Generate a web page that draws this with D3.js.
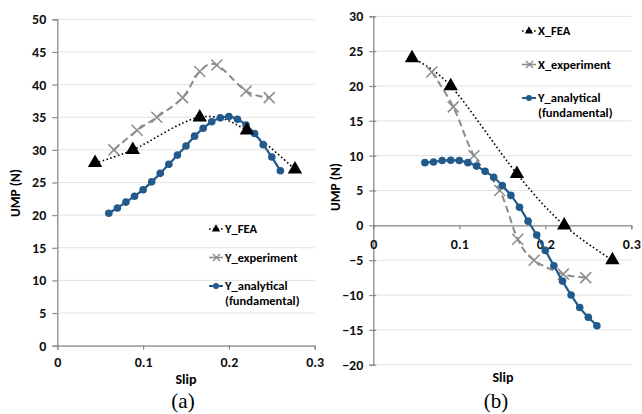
<!DOCTYPE html>
<html>
<head>
<meta charset="utf-8">
<script src="https://cdn.jsdelivr.net/npm/d3@7"></script>
<style>
  html, body { margin: 0; padding: 0; background: #fff; }
  svg { display: block; }
  text { font-family: Calibri, Carlito, Lato, "Open Sans", sans-serif; }
</style>
</head>
<body>
<svg id="chart" width="642" height="414"></svg>
<script>
// ---- Data: panel (a), Y component ----
const aFeaSlip = [0.044, 0.088, 0.166, 0.221, 0.277];
const aFeaUmp  = [28, 30, 35, 33, 27];
const aExpSlip = [0.066, 0.093, 0.116, 0.146, 0.166, 0.186, 0.220, 0.247];
const aExpUmp  = [30, 33, 35, 38, 42, 43, 39, 38];
const anaSlip  = [0.06, 0.07, 0.08, 0.09, 0.10, 0.11, 0.12, 0.13, 0.14, 0.15, 0.16,
                  0.17, 0.18, 0.19, 0.20, 0.21, 0.22, 0.23, 0.24, 0.25, 0.26];
const aAnaUmp  = [20.3, 21.1, 22.0, 22.9, 23.9, 25.1, 26.4, 27.8, 29.2, 30.6, 32.1,
                  33.3, 34.3, 34.9, 35.1, 34.7, 33.8, 32.5, 30.8, 28.9, 26.8];

// ---- Data: panel (b), X component ----
const bFeaSlip = [0.045, 0.090, 0.167, 0.222, 0.278];
const bFeaUmp  = [24, 20, 7.4, 0, -5];
const bExpSlip = [0.068, 0.093, 0.117, 0.147, 0.168, 0.187, 0.221, 0.247];
const bExpUmp  = [22, 17, 10, 5, -2, -5, -7, -7.5];
const bAnaUmp  = [9.0, 9.1, 9.3, 9.35, 9.3, 9.0, 8.5, 7.75, 6.9, 5.7, 4.3,
                  2.6, 0.6, -1.4, -3.6, -5.8, -8.0, -10.0, -11.8, -13.2, -14.4];

// ---- Axis ticks and labels ----
const slipTicks = [0, 0.1, 0.2, 0.3];
const aUmpTicks = [0, 5, 10, 15, 20, 25, 30, 35, 40, 45, 50];
const bUmpTicks = [-20, -15, -10, -5, 0, 5, 10, 15, 20, 25, 30];
const aLegend = ["Y_FEA", "Y_experiment", "Y_analytical", "(fundamental)"];
const bLegend = ["X_FEA", "X_experiment", "Y_analytical", "(fundamental)"];

const BLUE = "#235a8c", GRAY = "#8c8c8c", GRID = "#e3e3e3", AXIS = "#8a8a8a";
const svg = d3.select("#chart");
const zip = (xs, ys) => xs.map((x, i) => [x, ys[i]]);

function panel(opt) {
  const g = svg.append("g");
  const x = d3.scaleLinear().domain([0, 0.3]).range(opt.xr);
  const y = d3.scaleLinear().domain(opt.yd).range(opt.yr);

  // horizontal gridlines
  g.append("g").selectAll("line").data(opt.yTicks).join("line")
    .attr("x1", x(0)).attr("x2", x(0.3))
    .attr("y1", d => y(d)).attr("y2", d => y(d))
    .attr("stroke", GRID).attr("stroke-width", 1);

  // y axis
  const yAxis = g.append("g").attr("transform", `translate(${x(0)},0)`)
    .call(d3.axisLeft(y).tickValues(opt.yTicks).tickSize(opt.yTickSize).tickPadding(6).tickFormat(d3.format("d")));
  yAxis.select(".domain").attr("stroke", AXIS).attr("stroke-width", 1.3);
  yAxis.selectAll(".tick line").attr("stroke", AXIS).attr("stroke-width", 1.2)
    .attr("x1", opt.yTickCross ? 3 : 0);
  yAxis.selectAll(".tick text").attr("font-size", 14).attr("font-weight", "bold").attr("fill", "#111");

  // x axis (crossing at y = 0)
  const xAxis = g.append("g").attr("transform", `translate(0,${y(0)})`)
    .call(d3.axisBottom(x).tickValues(slipTicks).tickSize(4).tickPadding(opt.xPad)
      .tickFormat(d => d === 0 ? "0" : d3.format(".1f")(d)));
  xAxis.select(".domain").attr("stroke", AXIS).attr("stroke-width", 1.3);
  xAxis.selectAll(".tick line").attr("stroke", AXIS).attr("stroke-width", 1.2);
  xAxis.selectAll(".tick text").attr("font-size", 14).attr("font-weight", "bold").attr("fill", "#111");

  // axis titles
  g.append("text").attr("x", opt.slipPos[0]).attr("y", opt.slipPos[1])
    .attr("text-anchor", "middle").attr("font-size", 14).attr("font-weight", "bold").text("Slip");
  g.append("text").attr("transform", `translate(${opt.umpPos[0]},${opt.umpPos[1]}) rotate(-90)`)
    .attr("text-anchor", "middle").attr("font-size", 13.5).attr("font-weight", "bold").text("UMP (N)");

  const smooth = d3.line().x(d => x(d[0])).y(d => y(d[1])).curve(d3.curveCatmullRom.alpha(0));

  // FEA: dotted smooth line with triangles
  const fea = zip(opt.feaX, opt.feaY);
  g.append("path").attr("d", smooth(fea)).attr("fill", "none")
    .attr("stroke", "#000").attr("stroke-width", 1.6).attr("stroke-dasharray", "1.6,2.4");
  // experiment: dashed smooth line with crosses
  const exp = zip(opt.expX, opt.expY);
  g.append("path").attr("d", smooth(exp)).attr("fill", "none")
    .attr("stroke", GRAY).attr("stroke-width", 2).attr("stroke-dasharray", "7,4");
  g.append("g").selectAll("path").data(exp).join("path")
    .attr("d", d => { const cx = x(d[0]), cy = y(d[1]), r = 5.5;
      return `M${cx - r},${cy - r}L${cx + r},${cy + r}M${cx - r},${cy + r}L${cx + r},${cy - r}`; })
    .attr("stroke", GRAY).attr("stroke-width", 1.5).attr("fill", "none");
  // analytical: solid line with circles
  const ana = zip(anaSlip, opt.anaY);
  g.append("path").attr("d", smooth(ana)).attr("fill", "none")
    .attr("stroke", BLUE).attr("stroke-width", 2.2);
  g.append("g").selectAll("circle").data(ana).join("circle")
    .attr("cx", d => x(d[0])).attr("cy", d => y(d[1])).attr("r", 3.8).attr("fill", BLUE);
  // triangles on top
  const tri = d3.symbol().type(d3.symbolTriangle).size(90);
  g.append("g").selectAll("path").data(fea).join("path")
    .attr("transform", d => `translate(${x(d[0])},${y(d[1])})`).attr("d", tri).attr("fill", "#000");

  // legend
  const L = opt.legend, lx = opt.legPos[0], ly = opt.legPos[1], gap = opt.legGap;
  const lg = g.append("g").attr("font-size", 12.5).attr("font-weight", "bold");
  // FEA entry
  lg.append("line").attr("x1", lx).attr("x2", lx + 14).attr("y1", ly).attr("y2", ly)
    .attr("stroke", "#000").attr("stroke-width", 1.6).attr("stroke-dasharray", "1.6,2.4");
  lg.append("path").attr("transform", `translate(${lx + 7},${ly})`)
    .attr("d", d3.symbol().type(d3.symbolTriangle).size(30)).attr("fill", "#000");
  lg.append("text").attr("x", lx + 16).attr("y", ly).attr("dy", "0.35em").text(L[0]);
  // experiment entry
  const ey = ly + gap;
  lg.append("line").attr("x1", lx).attr("x2", lx + 14).attr("y1", ey).attr("y2", ey)
    .attr("stroke", GRAY).attr("stroke-width", 1.6);
  lg.append("path").attr("d", `M${lx + 4},${ey - 3.5}L${lx + 11},${ey + 3.5}M${lx + 4},${ey + 3.5}L${lx + 11},${ey - 3.5}`)
    .attr("stroke", GRAY).attr("stroke-width", 1.4);
  lg.append("text").attr("x", lx + 16).attr("y", ey).attr("dy", "0.35em").text(L[1]);
  // analytical entry
  const ay = ly + 2 * gap;
  lg.append("line").attr("x1", lx).attr("x2", lx + 14).attr("y1", ay).attr("y2", ay)
    .attr("stroke", BLUE).attr("stroke-width", 2);
  lg.append("circle").attr("cx", lx + 7).attr("cy", ay).attr("r", 3).attr("fill", BLUE);
  lg.append("text").attr("x", lx + 16).attr("y", ay).attr("dy", "0.35em").text(L[2]);
  lg.append("text").attr("x", lx + 16).attr("y", ay + 15).attr("dy", "0.35em").text(L[3]);

  // caption
  svg.append("text").attr("x", opt.capPos[0]).attr("y", opt.capPos[1]).attr("text-anchor", "middle")
    .attr("font-size", 21).style("font-family", "'Liberation Serif', 'Times New Roman', serif").text(opt.caption);
}

panel({
  xr: [57.3, 314.7], yd: [0, 50], yr: [345.7, 19.3], yTicks: aUmpTicks,
  yTickSize: 5, yTickCross: false, xPad: 7, 
  feaX: aFeaSlip, feaY: aFeaUmp, expX: aExpSlip, expY: aExpUmp, anaY: aAnaUmp,
  legend: aLegend, legPos: [209, 229], legGap: 28.5,
  slipPos: [186, 384], umpPos: [20, 193], capPos: [183, 408], caption: "(a)"
});
panel({
  xr: [373.3, 631.3], yd: [-20, 30], yr: [364.7, 16.3], yTicks: bUmpTicks,
  yTickSize: 4, yTickCross: true, xPad: 10,
  feaX: bFeaSlip, feaY: bFeaUmp, expX: bExpSlip, expY: bExpUmp, anaY: bAnaUmp,
  legend: bLegend, legPos: [522, 31], legGap: 33.5,
  slipPos: [503, 382], umpPos: [340, 187], capPos: [496, 408], caption: "(b)"
});
</script>
</body>
</html>
